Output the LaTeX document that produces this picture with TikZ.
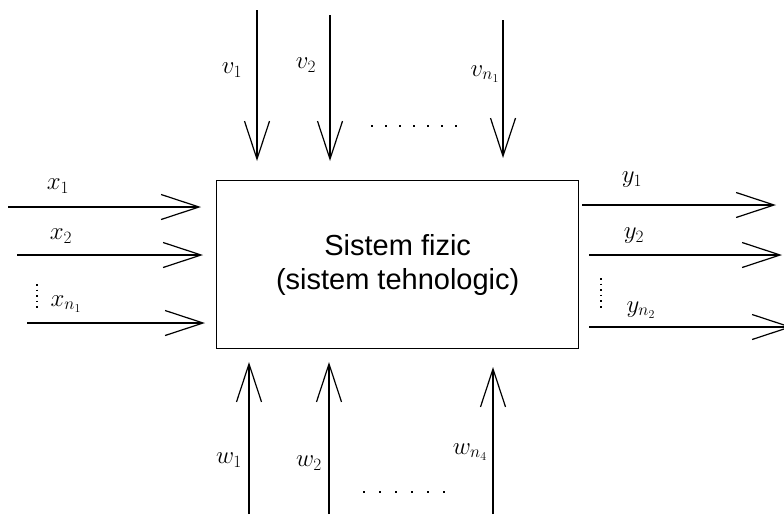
\documentclass[tikz,border=0pt]{standalone}
\usepackage{fontspec}
\setmainfont{Liberation Sans}
\usetikzlibrary{arrows.meta}
\begin{document}
\begin{tikzpicture}[x=1pt,y=-1pt,
  flow/.style={line width=1.4pt,-{Straight Barb[length=38pt,width=25pt,line width=1.2pt]}},
  lbl/.style={inner sep=0pt,font=\fontsize{24}{28}\selectfont},
  dotsy/.style={line width=1.6pt,dash pattern=on 1.6pt off 4pt},
  dotsx/.style={line width=1.8pt,dash pattern=on 1.8pt off 12.2pt},
  dotsw/.style={line width=1.8pt,dash pattern=on 1.8pt off 14.2pt}]
\useasboundingbox (0,0) rectangle (784,514);
\node[draw,line width=1.4pt,minimum width=362pt,minimum height=168pt,anchor=north west,
  align=center,font=\fontsize{29}{34}\selectfont] (sys) at (216,180) {Sistem fizic\\(sistem tehnologic)};
% inputs
\coordinate (x1s) at (8,207);   \coordinate (x1e) at (201,207);
\coordinate (x2s) at (17,255);  \coordinate (x2e) at (203,255);
\coordinate (x3s) at (27,323);  \coordinate (x3e) at (205,323);
\draw[flow] (x1s) -- (x1e);
\draw[flow] (x2s) -- (x2e);
\draw[flow] (x3s) -- (x3e);
\node[lbl] (lx1) at (58,186) {$x_1$};
\node[lbl] (lx2) at (61,236) {$x_2$};
\node[lbl] (lx3) at (66,304) {$x_{n_1}$};
\coordinate (dxa) at (37,284); \coordinate (dxb) at (37,311);
\draw[dotsy] (dxa) -- (dxb);
% outputs
\coordinate (y1s) at (582,205); \coordinate (y1e) at (776,205);
\coordinate (y2s) at (589,255); \coordinate (y2e) at (782,255);
\coordinate (y3s) at (589,327); \coordinate (y3e) at (792,327);
\draw[flow] (y1s) -- (y1e);
\draw[flow] (y2s) -- (y2e);
\draw[flow] (y3s) -- (y3e);
\node[lbl] (ly1) at (632,180) {$y_1$};
\node[lbl] (ly2) at (634,236) {$y_2$};
\node[lbl] (ly3) at (641,310) {$y_{n_2}$};
\coordinate (dya) at (601,278); \coordinate (dyb) at (601,308);
\draw[dotsy] (dya) -- (dyb);
% top
\coordinate (v1s) at (257,10);  \coordinate (v1e) at (257,161);
\coordinate (v2s) at (330,15);  \coordinate (v2e) at (330,161);
\coordinate (v3s) at (503,20);  \coordinate (v3e) at (503,158);
\draw[flow] (v1s) -- (v1e);
\draw[flow] (v2s) -- (v2e);
\draw[flow] (v3s) -- (v3e);
\node[lbl] (lv1) at (232,70) {$v_1$};
\node[lbl] (lv2) at (306,65) {$v_2$};
\node[lbl] (lv3) at (485,74) {$v_{n_1}$};
\coordinate (dva) at (371,126); \coordinate (dvb) at (458,126);
\draw[dotsx] (dva) -- (dvb);
% bottom
\coordinate (w1s) at (249,514); \coordinate (w1e) at (249,362);
\coordinate (w2s) at (329,514); \coordinate (w2e) at (329,362);
\coordinate (w3s) at (493,514); \coordinate (w3e) at (493,367);
\draw[flow] (w1s) -- (w1e);
\draw[flow] (w2s) -- (w2e);
\draw[flow] (w3s) -- (w3e);
\node[lbl] (lw1) at (229,460) {$w_1$};
\node[lbl] (lw2) at (309,463) {$w_2$};
\node[lbl] (lw3) at (470,452) {$w_{n_4}$};
\coordinate (dwa) at (363,492); \coordinate (dwb) at (446,492);
\draw[dotsw] (dwa) -- (dwb);
\end{tikzpicture}
\end{document}
